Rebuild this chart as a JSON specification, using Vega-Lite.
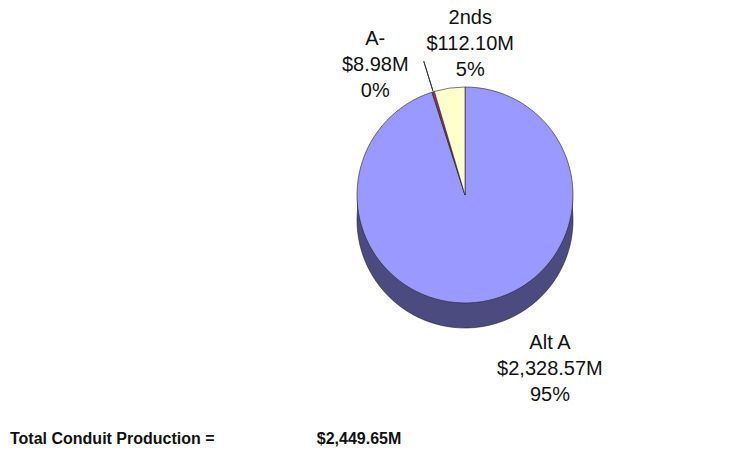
{
  "$schema": "https://vega.github.io/schema/vega-lite/v6.json",
  "width": 570,
  "height": 390,
  "autosize": {"type": "none"},
  "padding": {"left": 180, "right": 0, "top": 0, "bottom": 71},
  "background": "white",
  "config": {"view": {"stroke": null}, "text": {"font": "Liberation Sans"}},
  "title": {
    "text": "Total Conduit Production =\u00a0\u00a0\u00a0\u00a0\u00a0\u00a0\u00a0\u00a0\u00a0\u00a0\u00a0\u00a0\u00a0\u00a0\u00a0\u00a0\u00a0\u00a0\u00a0\u00a0\u00a0\u00a0\u00a0$2,449.65M",
    "orient": "bottom",
    "anchor": "start",
    "frame": "group",
    "dx": -170,
    "offset": 26,
    "font": "Liberation Sans",
    "fontSize": 16,
    "fontWeight": "bold",
    "color": "#111111"
  },
  "data": {
    "values": [
      {"cat": "Alt A", "value": 2328.57, "order": 1, "label": "Alt A\n$2,328.57M\n95%"},
      {"cat": "A-", "value": 8.98, "order": 2, "label": "A-\n$8.98M\n0%"},
      {"cat": "2nds", "value": 112.10, "order": 3, "label": "2nds\n$112.10M\n5%"}
    ]
  },
  "encoding": {
    "theta": {"field": "value", "type": "quantitative", "stack": true},
    "order": {"field": "order", "type": "quantitative"}
  },
  "layer": [
    {
      "mark": {"type": "arc", "radius": 108, "yOffset": 25, "stroke": "#222", "strokeWidth": 0.6},
      "encoding": {
        "fill": {"field": "cat", "type": "nominal", "legend": null,
          "scale": {"domain": ["Alt A", "A-", "2nds"], "range": ["#4B4B7F", "#5C1F3D", "#9A9A7A"]}}
      }
    },
    {
      "mark": {"type": "arc", "radius": 108, "yOffset": 12},
      "encoding": {
        "fill": {"field": "cat", "type": "nominal", "legend": null,
          "scale": {"domain": ["Alt A", "A-", "2nds"], "range": ["#4B4B7F", "#5C1F3D", "#9A9A7A"]}}
      }
    },
    {
      "mark": {"type": "arc", "radius": 108, "stroke": "#222", "strokeWidth": 0.6},
      "encoding": {
        "color": {"field": "cat", "type": "nominal", "legend": null,
          "scale": {"domain": ["Alt A", "A-", "2nds"], "range": ["#9999FF", "#993366", "#FFFFCC"]}}
      }
    },
    {
      "mark": {"type": "arc", "radius": 109, "radius2": 140, "padAngle": 0.06, "fill": "#333", "stroke": "#333", "strokeWidth": 0.9},
      "encoding": {
        "opacity": {"condition": {"test": "datum.cat === 'A-'", "value": 1}, "value": 0}
      }
    },
    {
      "mark": {"type": "text", "radius": 145, "dx": 26, "dy": -33, "fontSize": 20, "lineBreak": "\n", "lineHeight": 26, "baseline": "middle", "color": "#111"},
      "encoding": {
        "text": {"field": "label"},
        "opacity": {"condition": {"test": "datum.cat === '2nds'", "value": 1}, "value": 0}
      }
    },
    {
      "mark": {"type": "text", "radius": 145, "dx": -47, "dy": -17, "fontSize": 20, "lineBreak": "\n", "lineHeight": 26, "baseline": "middle", "color": "#111"},
      "encoding": {
        "text": {"field": "label"},
        "opacity": {"condition": {"test": "datum.cat === 'A-'", "value": 1}, "value": 0}
      }
    },
    {
      "mark": {"type": "text", "radius": 174, "dx": 58, "dy": -24, "fontSize": 20, "lineBreak": "\n", "lineHeight": 26, "baseline": "middle", "color": "#111"},
      "encoding": {
        "text": {"field": "label"},
        "opacity": {"condition": {"test": "datum.cat === 'Alt A'", "value": 1}, "value": 0}
      }
    }
  ],
  "resolve": {"scale": {"color": "independent", "fill": "independent"}}
}
